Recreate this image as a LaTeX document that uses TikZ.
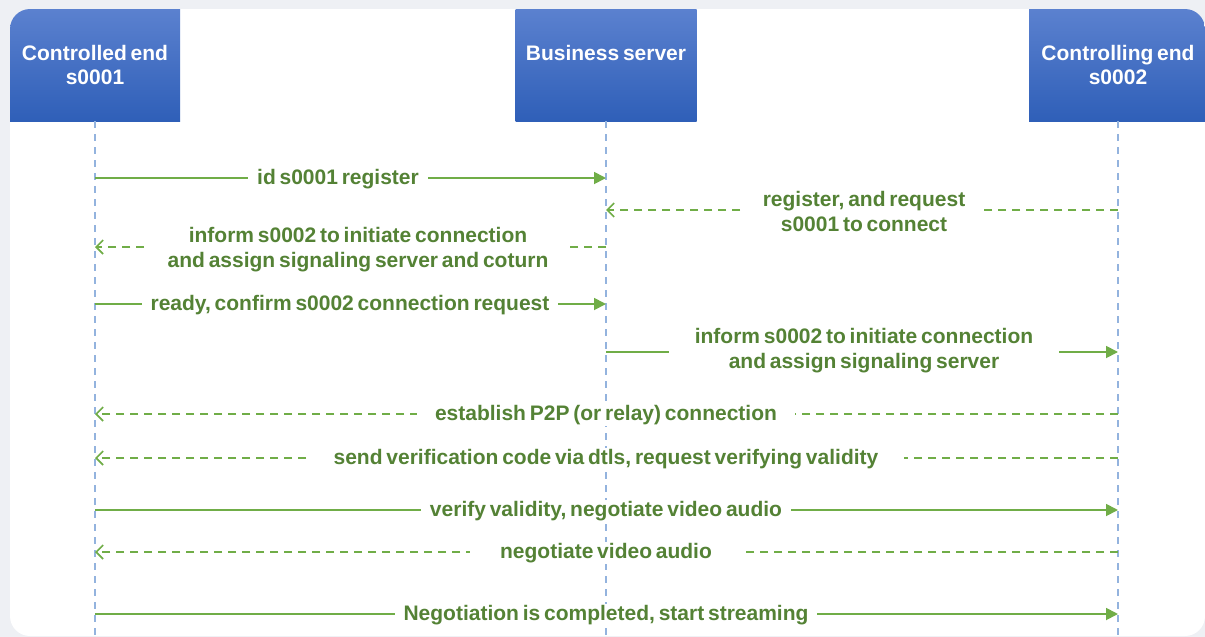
\documentclass[tikz,border=0pt]{standalone}
\usepackage{fontspec}
\setmainfont{Liberation Sans}[WordSpace={0.65}]
\usetikzlibrary{arrows.meta}

\definecolor{pagegray}{HTML}{EEF0F4}
\definecolor{boxtop}{HTML}{5B81CF}
\definecolor{boxbot}{HTML}{2F5FB8}
\definecolor{lifeblue}{HTML}{93B3DE}
\definecolor{linegreen}{HTML}{70AD47}
\definecolor{textgreen}{HTML}{548235}

\tikzset{
  hdr/.style={top color=boxtop, bottom color=boxbot, text=white,
    font=\bfseries\fontsize{21}{24}\selectfont, align=center,
    minimum height=112pt, inner sep=0pt},
  life/.style={draw=lifeblue, line width=1.8pt, dash pattern=on 7pt off 6pt},
  msg/.style={draw=linegreen, line width=1.8pt},
  sync/.style={msg, -{Triangle[length=12pt,width=12pt]}},
  rply/.style={msg, dash pattern=on 8pt off 6pt,
    -{Straight Barb[length=7pt,width=14pt,line width=1.6pt]}},
  lbl/.style={fill=white, text=textgreen,
    font=\bfseries\fontsize{21}{25}\selectfont, align=center,
    inner xsep=9pt, inner ysep=1pt},
}

\begin{document}
\begin{tikzpicture}[x=1pt,y=-1pt]
  % page and card
  \fill[pagegray] (0,0) rectangle (1205,637);
  \useasboundingbox (0,0) rectangle (1205,637);
  \fill[white, rounded corners=20pt] (10,9) rectangle (1205,636);

  % participants
  \begin{scope}
    \clip[rounded corners=20pt] (10,9) rectangle (1205,636);
    \node[hdr, minimum width=170pt] (ce) at (95,65) {Controlled end\\s0001};
    \node[hdr, minimum width=181pt] (bs) at (606,65) {Business server\\\mbox{}};
    \node[hdr, minimum width=178pt] (cg) at (1118,65) {Controlling end\\s0002};
  \end{scope}

  % lifelines
  \coordinate (ceEnd) at (95,637);
  \coordinate (bsEnd) at (606,637);
  \coordinate (cgEnd) at (1118,637);
  \draw[life] (ce.south) -- (ceEnd);
  \draw[life] (bs.south) -- (bsEnd);
  \draw[life] (cg.south) -- (cgEnd);

  % messages
  \draw[sync] (ce |- 0,178) -- (bs |- 0,178);
  \node[lbl] (m1) at (338,179) {id s0001 register};

  \draw[rply] (cg |- 0,210) -- (bs |- 0,210);
  \node[lbl, inner xsep=18pt] (m2) at (864,211) {register, and request\\s0001 to connect};

  \draw[rply] (bs |- 0,247) -- (ce |- 0,247);
  \node[lbl, inner xsep=18pt] (m3) at (358,250) {inform s0002 to initiate connection\\and assign signaling server and coturn};

  \draw[sync] (ce |- 0,304) -- (bs |- 0,304);
  \node[lbl] (m4) at (350,305) {ready, confirm s0002 connection request};

  \draw[sync] (bs |- 0,352) -- (cg |- 0,352);
  \node[lbl, inner xsep=26pt] (m5) at (864,351) {inform s0002 to initiate connection\\and assign signaling server};

  \draw[rply] (cg |- 0,414) -- (ce |- 0,414);
  \node[lbl, inner xsep=18pt] (m6) at (606,415) {establish P2P (or relay) connection};

  \draw[rply] (cg |- 0,458) -- (ce |- 0,458);
  \node[lbl, inner xsep=26pt] (m7) at (606,459) {send verification code via dtls, request verifying validity};

  \draw[sync] (ce |- 0,510) -- (cg |- 0,510);
  \node[lbl] (m8) at (606,511) {verify validity, negotiate video audio};

  \draw[rply] (cg |- 0,552) -- (ce |- 0,552);
  \node[lbl, inner xsep=30pt] (m9) at (606,553) {negotiate video audio};

  \draw[sync] (ce |- 0,614) -- (cg |- 0,614);
  \node[lbl] (m10) at (606,615) {Negotiation is completed, start streaming};
\end{tikzpicture}
\end{document}
